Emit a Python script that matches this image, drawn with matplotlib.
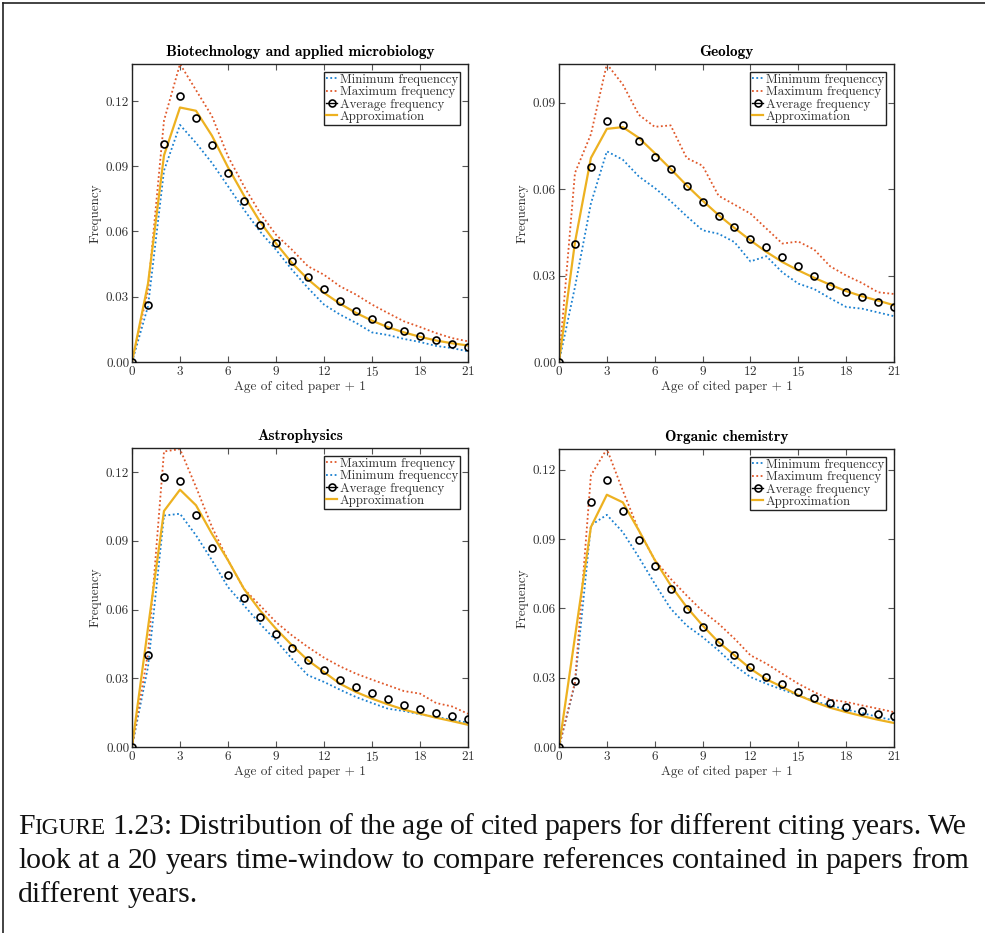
import matplotlib
matplotlib.use('Agg')
import matplotlib.pyplot as plt
from matplotlib.lines import Line2D
from matplotlib.ticker import FormatStrFormatter

# ---------------- data ----------------
ages = list(range(22))

bio_title = "Biotechnology and applied microbiology"
bio_min = [0, 0.0256, 0.088, 0.109, 0.1007, 0.0915, 0.0808, 0.070, 0.060, 0.0516, 0.0424,
           0.034, 0.0264, 0.0218, 0.018, 0.0136, 0.0124, 0.0106, 0.0092, 0.0074, 0.0064, 0.0049]
bio_max = [0, 0.033, 0.111, 0.137, 0.125, 0.113, 0.0945, 0.0808, 0.0685, 0.0585, 0.0516,
           0.044, 0.0401, 0.0348, 0.031, 0.0264, 0.0225, 0.0187, 0.0161, 0.0133, 0.011, 0.0095]
bio_avg = [0, 0.026, 0.1004, 0.1225, 0.1123, 0.0998, 0.0867, 0.0739, 0.0631, 0.0546, 0.0464,
           0.0392, 0.0334, 0.0280, 0.0236, 0.0198, 0.0170, 0.0141, 0.0120, 0.0100, 0.0084, 0.0069]
bio_approx = [0, 0.036, 0.095, 0.117, 0.1155, 0.104, 0.0895, 0.0765, 0.0645, 0.0545, 0.0455,
              0.038, 0.0318, 0.0268, 0.0226, 0.019, 0.016, 0.0136, 0.0116, 0.0099, 0.0086, 0.0076]

geo_title = "Geology"
geo_min = [0, 0.026, 0.055, 0.0731, 0.0702, 0.0644, 0.0604, 0.0558, 0.0506, 0.0457, 0.0445,
           0.0416, 0.0349, 0.0367, 0.0311, 0.0272, 0.0253, 0.0221, 0.0191, 0.0185, 0.0172, 0.0159]
geo_max = [0, 0.0656, 0.079, 0.1034, 0.0963, 0.0858, 0.0816, 0.0821, 0.0708, 0.0681, 0.0577,
           0.0546, 0.0515, 0.0463, 0.0411, 0.0418, 0.039, 0.0332, 0.030, 0.0274, 0.0242, 0.0236]
geo_avg = [0, 0.041, 0.0678, 0.0835, 0.0821, 0.0766, 0.0712, 0.0668, 0.0609, 0.0555, 0.0508,
           0.0469, 0.0427, 0.0400, 0.0364, 0.0333, 0.0299, 0.0263, 0.0243, 0.0224, 0.0208, 0.0190]
geo_approx = [0, 0.0415, 0.0708, 0.0809, 0.0815, 0.0778, 0.0725, 0.067, 0.0613, 0.056, 0.051,
              0.0465, 0.0422, 0.0382, 0.0347, 0.0318, 0.0292, 0.0268, 0.0246, 0.0228, 0.0213, 0.0197]

ast_title = "Astrophysics"
ast_min = [0, 0.035, 0.101, 0.1018, 0.0924, 0.0815, 0.0698, 0.0618, 0.0538, 0.0465, 0.0385,
           0.0313, 0.0284, 0.025, 0.0218, 0.0192, 0.0167, 0.0157, 0.0143, 0.0131, 0.0119, 0.0106]
ast_max = [0, 0.041, 0.129, 0.130, 0.1135, 0.096, 0.0815, 0.069, 0.0618, 0.0545, 0.0487,
           0.0436, 0.039, 0.0352, 0.032, 0.0294, 0.0269, 0.0244, 0.0233, 0.0192, 0.0177, 0.0145]
ast_avg = [0, 0.040, 0.1177, 0.1161, 0.1011, 0.0868, 0.0749, 0.0652, 0.0567, 0.0495, 0.0432,
           0.0378, 0.0335, 0.0294, 0.0262, 0.0234, 0.0208, 0.0185, 0.0167, 0.0148, 0.0137, 0.0121]
ast_approx = [0, 0.052, 0.103, 0.1123, 0.1055, 0.093, 0.0815, 0.069, 0.0596, 0.0516, 0.0444,
              0.0378, 0.0327, 0.0276, 0.024, 0.0211, 0.0186, 0.0163, 0.0145, 0.0128, 0.0113, 0.0097]

org_title = "Organic chemistry"
org_min = [0, 0.0274, 0.096, 0.1005, 0.093, 0.0822, 0.0707, 0.0599, 0.0526, 0.0476, 0.0418,
           0.0353, 0.0303, 0.0274, 0.0248, 0.0224, 0.0198, 0.018, 0.0162, 0.0147, 0.013, 0.0115]
org_max = [0, 0.028, 0.1176, 0.129, 0.111, 0.0938, 0.081, 0.0728, 0.0656, 0.0588, 0.0534,
           0.0469, 0.0397, 0.0361, 0.0317, 0.0274, 0.0238, 0.0205, 0.0195, 0.018, 0.0166, 0.0151]
org_avg = [0, 0.0284, 0.1062, 0.1154, 0.102, 0.0897, 0.0785, 0.0684, 0.0596, 0.0519, 0.0454,
           0.0397, 0.0346, 0.0304, 0.0271, 0.0237, 0.0212, 0.0192, 0.0173, 0.0157, 0.0144, 0.0133]
org_approx = [0, 0.0476, 0.0952, 0.1092, 0.1059, 0.0938, 0.081, 0.070, 0.0606, 0.0526, 0.0454,
              0.0397, 0.0339, 0.0293, 0.026, 0.0224, 0.0195, 0.017, 0.0151, 0.0134, 0.0118, 0.0104]

x_ticks = [0, 3, 6, 9, 12, 15, 18, 21]
y_ticks = [0.00, 0.03, 0.06, 0.09, 0.12]

lbl_min = "Minimum frequenccy"
lbl_max = "Maximum frequency"
lbl_avg = "Average frequency"
lbl_apx = "Approximation"

caption_lines = [
    "1.23: Distribution of the age of cited papers for different citing years. We",
    "look at a 20 years time-window to compare references contained in papers from",
    "different years.",
]

# ---------------- style ----------------
plt.rcParams['font.family'] = ['cmr10', 'DejaVu Serif']
plt.rcParams['axes.formatter.use_mathtext'] = True
plt.rcParams['mathtext.fontset'] = 'cm'

C_MIN = '#1a80d0'
C_MAX = '#e0582a'
C_APX = '#EDB120'
DOT = (0, (1, 1.4))

W, H = 985, 933
fig = plt.figure(figsize=(W / 100, H / 100), dpi=100)


def px_axes(l, t, r, b):
    return [l / W, 1 - b / H, (r - l) / W, (b - t) / H]


panels = [
    (px_axes(132, 64, 468, 362), bio_title, bio_min, bio_max, bio_avg, bio_approx, 0.137, False),
    (px_axes(559, 64, 894, 362), geo_title, geo_min, geo_max, geo_avg, geo_approx, 0.1034, False),
    (px_axes(132, 448, 468, 747), ast_title, ast_min, ast_max, ast_avg, ast_approx, 0.1305, True),
    (px_axes(559, 449, 894, 747), org_title, org_min, org_max, org_avg, org_approx, 0.129, False),
]

for rect, title, vmin, vmax, vavg, vapx, ytop, max_first in panels:
    ax = fig.add_axes(rect)
    ax.plot(ages, vmin, linestyle=DOT, color=C_MIN, lw=1.3)
    ax.plot(ages, vmax, linestyle=DOT, color=C_MAX, lw=1.3)
    ax.plot(ages, vapx, '-', color=C_APX, lw=1.6)
    ax.plot(ages, vavg, linestyle='None', marker='o', mfc='none', mec='black',
            ms=5, mew=1.2, zorder=5)
    ax.set_xticks(x_ticks)
    ax.set_yticks([t for t in y_ticks if t <= ytop])
    ax.set_xlim(0, 21)
    ax.set_ylim(0, ytop)
    ax.yaxis.set_major_formatter(FormatStrFormatter('%.2f'))
    ax.tick_params(direction='in', top=True, right=True, length=4, width=0.8,
                   color='#555555', labelsize=9.5, labelcolor='#333333', pad=2)
    for s in ax.spines.values():
        s.set_linewidth(1.0)
        s.set_color('#222222')
    ax.set_title(title, fontfamily='cmb10', fontsize=11, pad=6)
    ax.set_xlabel("Age of cited paper + 1", fontsize=9.5, color='#333333', labelpad=1)
    ax.set_ylabel("Frequency", fontsize=9.5, color='#333333', labelpad=3)

    h_min = Line2D([], [], linestyle=DOT, color=C_MIN, lw=1.3)
    h_max = Line2D([], [], linestyle=DOT, color=C_MAX, lw=1.3)
    h_avg = Line2D([], [], linestyle='-', color='black', lw=1.0, marker='o', mfc='none',
                   mec='black', ms=5, mew=1.2)
    h_apx = Line2D([], [], linestyle='-', color=C_APX, lw=1.6)
    if max_first:
        handles = [h_max, h_min, h_avg, h_apx]
        labels = [lbl_max, lbl_min, lbl_avg, lbl_apx]
    else:
        handles = [h_min, h_max, h_avg, h_apx]
        labels = [lbl_min, lbl_max, lbl_avg, lbl_apx]
    leg = ax.legend(handles, labels, loc='upper right', fontsize=9.3, handlelength=0.9,
                    handletextpad=0.2, labelspacing=0.02, borderpad=0.15,
                    borderaxespad=0.6, fancybox=False, framealpha=1, numpoints=1)
    leg.get_frame().set_edgecolor('#222222')
    leg.get_frame().set_linewidth(1.0)
    for t in leg.get_texts():
        t.set_color('#333333')

# ---------------- page border ----------------
fig.add_artist(Line2D([3 / W, 1], [1 - 3 / H, 1 - 3 / H], color='#222222', lw=1.2,
                      transform=fig.transFigure))
fig.add_artist(Line2D([3 / W, 3 / W], [0, 1 - 3 / H], color='#222222', lw=1.2,
                      transform=fig.transFigure))

# ---------------- caption ----------------
cap_font = 'Liberation Serif'
fig.canvas.draw()
renderer = fig.canvas.get_renderer()


def text_width(s, fs):
    t = fig.text(0, 0, s, fontsize=fs, family=cap_font)
    w = t.get_window_extent(renderer).width
    t.remove()
    return w


base_fs = 20.0
x_left = 18
target2 = 969 - x_left
words2 = caption_lines[1].split(' ')
sp = text_width('a a', base_fs) - text_width('aa', base_fs)
nat = sum(text_width(w, base_fs) for w in words2) + sp * (len(words2) - 1)
fs = base_fs * target2 / nat


def place_words(words, y_base, x_start, x_end=None, sizes=None, glue=None):
    widths = []
    for i, w in enumerate(words):
        s = sizes[i] if sizes else fs
        widths.append(text_width(w, s))
    space = text_width('a a', fs) - text_width('aa', fs)
    gaps = [space] * (len(words) - 1)
    if glue:
        for gi in glue:
            gaps[gi] = 0.0
    if x_end is not None:
        stretch_idx = [i for i in range(len(gaps)) if not (glue and i in glue)]
        extra = (x_end - x_start) - sum(widths) - sum(gaps)
        for i in stretch_idx:
            gaps[i] += extra / len(stretch_idx)
    x = x_start
    for i, w in enumerate(words):
        s = sizes[i] if sizes else fs
        fig.text(x / W, 1 - y_base / H, w, fontsize=s, family=cap_font,
                 va='baseline', ha='left', color='#111111')
        x += widths[i] + (gaps[i] if i < len(gaps) else 0)


words1 = ['F', 'IGURE'] + caption_lines[0].split(' ')
sizes1 = [fs, fs * 0.78] + [fs] * (len(words1) - 2)
place_words(words1, 834, x_left, 967, sizes=sizes1, glue=[0])
place_words(words2, 868, x_left, 969)
place_words(caption_lines[2].split(' '), 902, x_left)

fig.savefig('out.png', dpi=100)
